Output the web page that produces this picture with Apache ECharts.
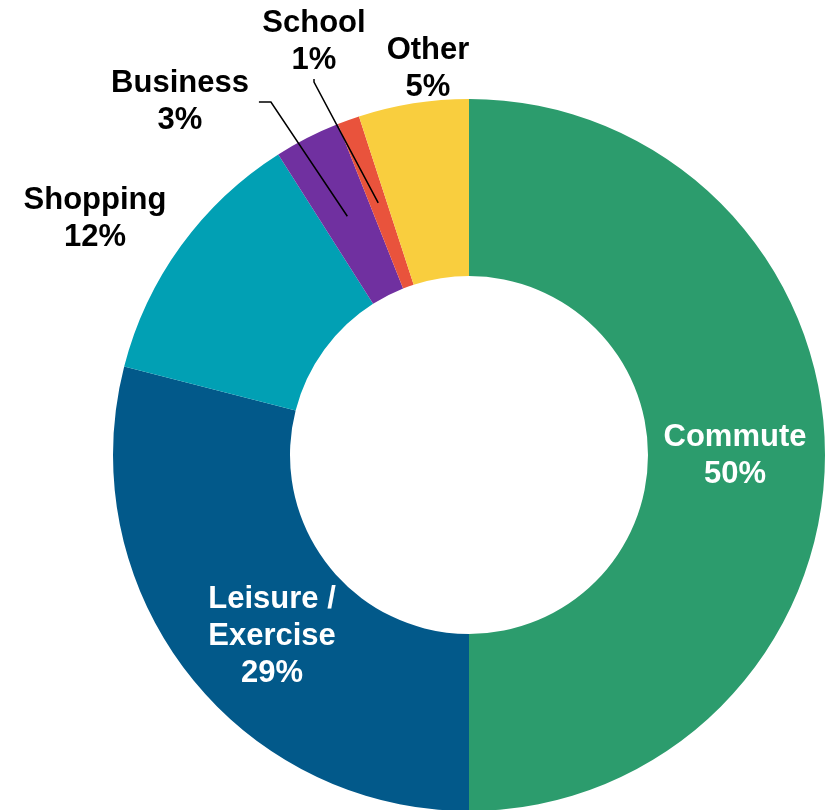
<!DOCTYPE html>
<html>
<head>
<meta charset="utf-8">
<script src="https://cdn.jsdelivr.net/npm/echarts@6/dist/echarts.min.js"></script>
<style>
  html, body { margin: 0; padding: 0; background: #fff; }
  #chart { width: 827px; height: 810px; }
</style>
</head>
<body>
<div id="chart"></div>
<script>
// trip purposes, share in %
const categories = ['Commute', 'Leisure / Exercise', 'Shopping', 'Business', 'School', 'Other']
const shares = [50, 29, 12, 3, 1, 5]

const colors = ['#2c9c6d', '#02598a', '#01a0b4', '#7030a0', '#e9533c', '#f9ce3e']
const insideLabels = ['Commute', 'Leisure / Exercise']
const withLine = ['Business', 'School']
// label centres (px)
const labelPos = {
  'Commute': [735, 456],
  'Leisure / Exercise': [272, 636],
  'Shopping': [95, 219],
  'Business': [180, 102],
  'School': [314, 42],
  'Other': [428, 69]
}

const font = { fontFamily: 'Liberation Sans, Arial, Helvetica, sans-serif', fontWeight: 'bold', fontSize: 31, lineHeight: 37 }
const fmt = p => p.name.replace('/ ', '/\n') + '\n' + p.value + '%'
const placeLabel = p => {
  const pos = labelPos[categories[p.dataIndex]]
  return { x: pos[0], y: pos[1], align: 'center', verticalAlign: 'middle' }
}

const myChart = echarts.init(document.getElementById('chart'))
const center = [469, 455]

const options = {
  animation: false,
  series: [
    {
      type: 'pie',
      center: center,
      radius: [179, 356],
      startAngle: 90,
      clockwise: true,
      avoidLabelOverlap: false,
      silent: true,
      data: categories.map((name, i) => ({
        name: name,
        value: shares[i],
        itemStyle: { color: colors[i] },
        label: { show: insideLabels.includes(name) }
      })),
      label: Object.assign({ position: 'inside', color: '#fff', formatter: fmt }, font),
      labelLine: { show: false },
      labelLayout: placeLabel
    },
    {
      // transparent ring to anchor the leader lines mid-slice
      type: 'pie',
      z: 3,
      center: center,
      radius: [179, 268],
      startAngle: 90,
      clockwise: true,
      avoidLabelOverlap: false,
      silent: true,
      itemStyle: { color: 'rgba(0,0,0,0)' },
      data: categories.map((name, i) => ({
        name: name,
        value: shares[i],
        label: {
          show: !insideLabels.includes(name),
          padding: name === 'Business' ? [0, 10, 0, 10] : 0
        },
        labelLine: {
          show: withLine.includes(name),
          length2: name === 'Business' ? 12 : 3
        }
      })),
      label: Object.assign({ position: 'outside', color: '#000', formatter: fmt }, font),
      labelLine: {
        length: 10,
        length2: 10,
        lineStyle: { color: '#000', width: 1.5 }
      },
      labelLayout: placeLabel
    }
  ]
}
myChart.setOption(options)
</script>
</body>
</html>
